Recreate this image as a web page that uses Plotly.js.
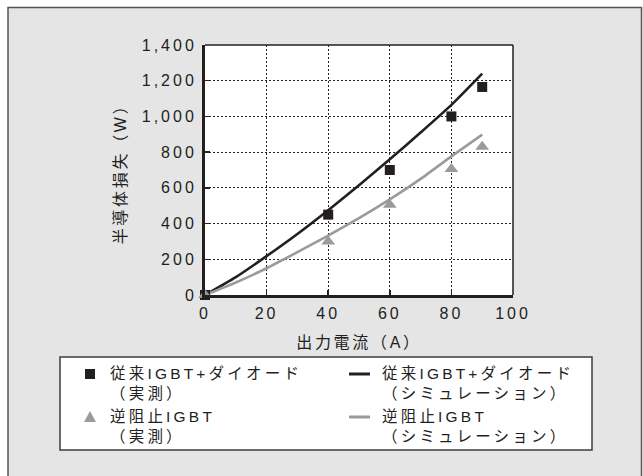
<!DOCTYPE html>
<html lang="ja">
<head>
<meta charset="utf-8">
<script src="https://cdn.plot.ly/plotly-3.0.1.min.js"></script>
<style>
  html, body { margin: 0; padding: 0; background: #ffffff; }
  #chart { width: 643px; height: 476px; }
  /* widely tracked lettering */
  .xtick text, .ytick text { letter-spacing: 3px; }
  .g-xtitle text, .g-ytitle text { letter-spacing: 2.7px; }
  text.annotation-text { letter-spacing: 3.2px; }
</style>
</head>
<body>
<div id="chart"></div>
<script>
// Output current (A) for measured points
const currentMeasured = [0, 40, 60, 80, 90];
// Conventional IGBT + diode, measured loss (W)
const conventionalMeasured = [0, 450, 700, 1000, 1165];
// Reverse-blocking IGBT, measured loss (W)
const reverseBlockingMeasured = [0, 300, 505, 705, 830];

// Output current (A) for simulated curves
const currentSim = [0, 10, 20, 30, 40, 50, 60, 70, 80, 90];
// Conventional IGBT + diode, simulated loss (W)
const conventionalSim = [0, 100, 218, 342, 475, 615, 760, 910, 1065, 1240];
// Reverse-blocking IGBT, simulated loss (W)
const reverseBlockingSim = [0, 70, 150, 240, 333, 430, 535, 650, 776, 898];

// Axis ticks
const xTickVals = [0, 20, 40, 60, 80, 100];
const xTickText = ['0', '20', '40', '60', '80', '100'];
const yTickVals = [0, 200, 400, 600, 800, 1000, 1200, 1400];
const yTickText = ['0', '200', '400', '600', '800', '1,000', '1,200', '1,400'];

// Legend entries
const legendLabels = [
  '従来IGBT+ダイオード<br>（実測）',
  '逆阻止IGBT<br>（実測）',
  '従来IGBT+ダイオード<br>（シミュレーション）',
  '逆阻止IGBT<br>（シミュレーション）'
];

const INK = '#231f20';
const GREY = '#9b9b9b';
const FONT = 'Liberation Sans, Arial, "Noto Sans CJK JP", sans-serif';

const W = 643, H = 476;
const M = { l: 205, r: 130, t: 45, b: 181 };
const plotW = W - M.l - M.r, plotH = H - M.t - M.b;
// pixel -> paper coordinate helpers for the frame and legend decorations
const px = v => (v - M.l) / plotW;
const py = v => (H - M.b - v) / plotH;

const traces = [
  { x: currentSim, y: conventionalSim, mode: 'lines', line: { color: INK, width: 2.6, shape: 'spline', smoothing: 0.6 },
    name: '従来IGBT+ダイオード（シミュレーション）', showlegend: false, cliponaxis: false },
  { x: currentSim, y: reverseBlockingSim, mode: 'lines', line: { color: GREY, width: 2.6, shape: 'spline', smoothing: 0.6 },
    name: '逆阻止IGBT（シミュレーション）', showlegend: false, cliponaxis: false },
  { x: currentMeasured, y: conventionalMeasured, mode: 'markers',
    marker: { symbol: 'square', size: 10, color: INK, line: { width: 0 } },
    name: '従来IGBT+ダイオード（実測）', showlegend: false, cliponaxis: false },
  { x: currentMeasured, y: reverseBlockingMeasured, mode: 'markers',
    marker: { symbol: 'triangle-up', size: 12, color: GREY, line: { width: 0 } },
    name: '逆阻止IGBT（実測）', showlegend: false, cliponaxis: false }
];

// legend geometry (pixels)
const lg = { x0: 60, x1: 592, y0: 357, y1: 450 };
const col1 = { sym: 90, text: 108 };
const col2 = { sym0: 349, sym1: 370, text: 380 };
const row1 = { sym: 374, text: 383.5 };
const row2 = { sym: 417, text: 426.5 };

const shapes = [
  // outer panel
  { type: 'rect', xref: 'paper', yref: 'paper', layer: 'below',
    x0: px(8), x1: px(641.5), y0: py(490), y1: py(7.5),
    fillcolor: '#e5e5e6', line: { color: '#555555', width: 1.5 } },
  // plot area
  { type: 'rect', xref: 'paper', yref: 'paper', layer: 'below',
    x0: 0, x1: 1, y0: 0, y1: 1, fillcolor: '#ffffff', line: { width: 0 } },
  // thin top/right frame
  { type: 'line', xref: 'paper', yref: 'paper', x0: 0, x1: 1, y0: 1, y1: 1, line: { color: INK, width: 1.5 } },
  { type: 'line', xref: 'paper', yref: 'paper', x0: 1, x1: 1, y0: 0, y1: 1, line: { color: INK, width: 1.5 } },
  // legend box
  { type: 'rect', xref: 'paper', yref: 'paper', layer: 'below',
    x0: px(lg.x0), x1: px(lg.x1), y0: py(lg.y1), y1: py(lg.y0),
    fillcolor: '#ffffff', line: { color: '#3c3c3c', width: 1.5 } },
  // legend symbols
  { type: 'rect', xref: 'paper', yref: 'paper',
    x0: px(col1.sym - 5), x1: px(col1.sym + 5), y0: py(row1.sym + 5), y1: py(row1.sym - 5),
    fillcolor: INK, line: { width: 0 } },
  { type: 'path', xref: 'paper', yref: 'paper',
    path: `M${px(col1.sym - 6)},${py(row2.sym + 5)} L${px(col1.sym + 6)},${py(row2.sym + 5)} L${px(col1.sym)},${py(row2.sym - 6)} Z`,
    fillcolor: GREY, line: { width: 0 } },
  { type: 'line', xref: 'paper', yref: 'paper', x0: px(col2.sym0), x1: px(col2.sym1), y0: py(row1.sym), y1: py(row1.sym),
    line: { color: INK, width: 3 } },
  { type: 'line', xref: 'paper', yref: 'paper', x0: px(col2.sym0), x1: px(col2.sym1), y0: py(row2.sym), y1: py(row2.sym),
    line: { color: GREY, width: 3 } }
];

const legendPos = [
  [col1.text, row1.text], [col1.text, row2.text], [col2.text, row1.text], [col2.text, row2.text]
];
const annotations = legendLabels.map((t, i) => ({
  text: t, xref: 'paper', yref: 'paper', x: px(legendPos[i][0]), y: py(legendPos[i][1]),
  xanchor: 'left', yanchor: 'middle', align: 'left', showarrow: false,
  font: { family: FONT, size: 15.5, color: INK }
}));

const axisCommon = {
  showline: true, linecolor: INK, linewidth: 3,
  ticks: 'inside', ticklen: 5, tickwidth: 1.5, tickcolor: INK,
  showgrid: true, gridcolor: '#222222', gridwidth: 1, griddash: '2px,2px',
  zeroline: false, fixedrange: true,
  tickfont: { family: FONT, size: 16, color: INK }
};

const layout = {
  width: W, height: H, margin: M,
  paper_bgcolor: '#ffffff', plot_bgcolor: '#ffffff',
  font: { family: FONT, color: INK },
  showlegend: false,
  xaxis: Object.assign({}, axisCommon, {
    range: [0, 100], tickmode: 'array', tickvals: xTickVals, ticktext: xTickText,
    ticklabelstandoff: 2,
    title: { text: '出力電流（A）', font: { family: FONT, size: 16, color: INK }, standoff: 16 }
  }),
  yaxis: Object.assign({}, axisCommon, {
    range: [0, 1400], tickmode: 'array', tickvals: yTickVals, ticktext: yTickText,
    ticklabelstandoff: 2,
    title: { text: '半導体損失（W）', font: { family: FONT, size: 16, color: INK }, standoff: 12 }
  }),
  shapes: shapes,
  annotations: annotations
};

Plotly.newPlot('chart', traces, layout, { staticPlot: true, displayModeBar: false });
</script>
</body>
</html>
